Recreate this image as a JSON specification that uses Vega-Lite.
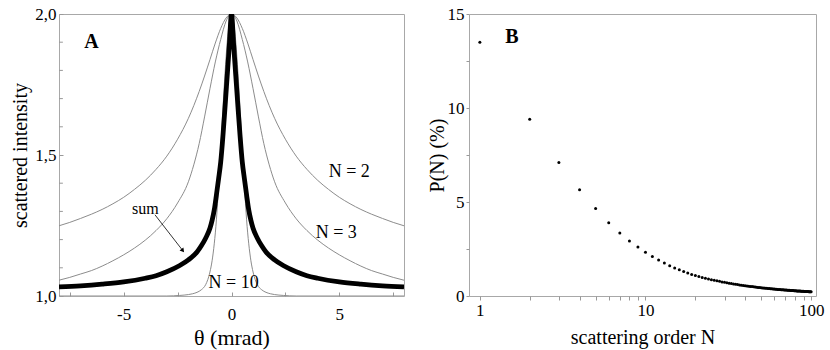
{
"$schema": "https://vega.github.io/schema/vega-lite/v6.json",
"padding": {"left": 10, "top": 4, "right": 4, "bottom": 2},
"background": "white",
"bounds": "flush",
"spacing": 65,
"config": {
  "font": "Liberation Serif",
  "view": {"stroke": "#a8a8a8", "strokeWidth": 1},
  "text": {"font": "Liberation Serif"},
  "axis": {"grid": false, "domain": false, "tickColor": "#999999", "labelFont": "Liberation Serif", "titleFont": "Liberation Serif", "labelFontSize": 17, "titleFontSize": 20, "labelColor": "#000000", "titleColor": "#000000", "titleFontWeight": "normal", "labelOverlap": false}
},
"datasets": {
  "curves": [
    {"s":"N2","x":-8,"y":1.249},{"s":"N2","x":-7.5,"y":1.261},{"s":"N2","x":-7,"y":1.275},{"s":"N2","x":-6.5,"y":1.29},{"s":"N2","x":-6,"y":1.307},{"s":"N2","x":-5.5,"y":1.327},{"s":"N2","x":-5,"y":1.35},{"s":"N2","x":-4.5,"y":1.378},{"s":"N2","x":-4,"y":1.41},{"s":"N2","x":-3.5,"y":1.449},{"s":"N2","x":-3,"y":1.496},{"s":"N2","x":-2.5,"y":1.556},{"s":"N2","x":-2,"y":1.63},{"s":"N2","x":-1.75,"y":1.675},{"s":"N2","x":-1.5,"y":1.725},{"s":"N2","x":-1.25,"y":1.78},{"s":"N2","x":-1,"y":1.838},{"s":"N2","x":-0.75,"y":1.897},{"s":"N2","x":-0.5,"y":1.949},{"s":"N2","x":-0.25,"y":1.986},{"s":"N2","x":0,"y":2},
    {"s":"N2","x":0.25,"y":1.986},{"s":"N2","x":0.5,"y":1.949},{"s":"N2","x":0.75,"y":1.897},{"s":"N2","x":1,"y":1.838},{"s":"N2","x":1.25,"y":1.78},{"s":"N2","x":1.5,"y":1.725},{"s":"N2","x":1.75,"y":1.675},{"s":"N2","x":2,"y":1.63},{"s":"N2","x":2.5,"y":1.556},{"s":"N2","x":3,"y":1.496},{"s":"N2","x":3.5,"y":1.449},{"s":"N2","x":4,"y":1.41},{"s":"N2","x":4.5,"y":1.378},{"s":"N2","x":5,"y":1.35},{"s":"N2","x":5.5,"y":1.327},{"s":"N2","x":6,"y":1.307},{"s":"N2","x":6.5,"y":1.29},{"s":"N2","x":7,"y":1.275},{"s":"N2","x":7.5,"y":1.261},{"s":"N2","x":8,"y":1.249},
    {"s":"N3","x":-8,"y":1.056},{"s":"N3","x":-7.5,"y":1.066},{"s":"N3","x":-7,"y":1.078},{"s":"N3","x":-6.5,"y":1.09},{"s":"N3","x":-6,"y":1.106},{"s":"N3","x":-5.5,"y":1.125},{"s":"N3","x":-5,"y":1.146},{"s":"N3","x":-4.5,"y":1.17},{"s":"N3","x":-4,"y":1.198},{"s":"N3","x":-3.5,"y":1.232},{"s":"N3","x":-3,"y":1.274},{"s":"N3","x":-2.5,"y":1.33},{"s":"N3","x":-2,"y":1.405},{"s":"N3","x":-1.75,"y":1.465},{"s":"N3","x":-1.5,"y":1.54},{"s":"N3","x":-1.25,"y":1.635},{"s":"N3","x":-1,"y":1.735},{"s":"N3","x":-0.75,"y":1.83},{"s":"N3","x":-0.5,"y":1.91},{"s":"N3","x":-0.25,"y":1.975},{"s":"N3","x":0,"y":2},
    {"s":"N3","x":0.25,"y":1.975},{"s":"N3","x":0.5,"y":1.91},{"s":"N3","x":0.75,"y":1.83},{"s":"N3","x":1,"y":1.735},{"s":"N3","x":1.25,"y":1.635},{"s":"N3","x":1.5,"y":1.54},{"s":"N3","x":1.75,"y":1.465},{"s":"N3","x":2,"y":1.405},{"s":"N3","x":2.5,"y":1.33},{"s":"N3","x":3,"y":1.274},{"s":"N3","x":3.5,"y":1.232},{"s":"N3","x":4,"y":1.198},{"s":"N3","x":4.5,"y":1.17},{"s":"N3","x":5,"y":1.146},{"s":"N3","x":5.5,"y":1.125},{"s":"N3","x":6,"y":1.106},{"s":"N3","x":6.5,"y":1.09},{"s":"N3","x":7,"y":1.078},{"s":"N3","x":7.5,"y":1.066},{"s":"N3","x":8,"y":1.056},
    {"s":"N10","x":-8,"y":1},{"s":"N10","x":-5,"y":1},{"s":"N10","x":-3,"y":1},{"s":"N10","x":-2.4,"y":1.002},{"s":"N10","x":-2,"y":1.005},{"s":"N10","x":-1.8,"y":1.008},{"s":"N10","x":-1.6,"y":1.013},{"s":"N10","x":-1.4,"y":1.022},{"s":"N10","x":-1.2,"y":1.04},{"s":"N10","x":-1.1,"y":1.058},{"s":"N10","x":-1,"y":1.085},{"s":"N10","x":-0.9,"y":1.125},{"s":"N10","x":-0.8,"y":1.185},{"s":"N10","x":-0.7,"y":1.27},{"s":"N10","x":-0.6,"y":1.39},{"s":"N10","x":-0.5,"y":1.52},{"s":"N10","x":-0.4,"y":1.66},{"s":"N10","x":-0.3,"y":1.79},{"s":"N10","x":-0.2,"y":1.9},{"s":"N10","x":-0.1,"y":1.97},{"s":"N10","x":0,"y":2},
    {"s":"N10","x":0.1,"y":1.97},{"s":"N10","x":0.2,"y":1.9},{"s":"N10","x":0.3,"y":1.79},{"s":"N10","x":0.4,"y":1.66},{"s":"N10","x":0.5,"y":1.52},{"s":"N10","x":0.6,"y":1.39},{"s":"N10","x":0.7,"y":1.27},{"s":"N10","x":0.8,"y":1.185},{"s":"N10","x":0.9,"y":1.125},{"s":"N10","x":1,"y":1.085},{"s":"N10","x":1.1,"y":1.058},{"s":"N10","x":1.2,"y":1.04},{"s":"N10","x":1.4,"y":1.022},{"s":"N10","x":1.6,"y":1.013},{"s":"N10","x":1.8,"y":1.008},{"s":"N10","x":2,"y":1.005},{"s":"N10","x":2.4,"y":1.002},{"s":"N10","x":3,"y":1},{"s":"N10","x":5,"y":1},{"s":"N10","x":8,"y":1}
  ],
  "sum": [
    {"x":-8,"y":1.032},{"x":-7,"y":1.036},{"x":-6,"y":1.042},{"x":-5,"y":1.05},{"x":-4,"y":1.063},{"x":-3.5,"y":1.072},{"x":-3,"y":1.086},{"x":-2.4,"y":1.108},{"x":-2,"y":1.128},{"x":-1.6,"y":1.156},{"x":-1.4,"y":1.178},{"x":-1.2,"y":1.205},{"x":-1,"y":1.24},{"x":-0.9,"y":1.268},{"x":-0.8,"y":1.305},{"x":-0.7,"y":1.358},{"x":-0.6,"y":1.415},{"x":-0.5,"y":1.475},{"x":-0.4,"y":1.565},{"x":-0.3,"y":1.67},{"x":-0.2,"y":1.78},{"x":-0.1,"y":1.89},{"x":0,"y":2},
    {"x":0.1,"y":1.89},{"x":0.2,"y":1.78},{"x":0.3,"y":1.67},{"x":0.4,"y":1.565},{"x":0.5,"y":1.475},{"x":0.6,"y":1.415},{"x":0.7,"y":1.358},{"x":0.8,"y":1.305},{"x":0.9,"y":1.268},{"x":1,"y":1.24},{"x":1.2,"y":1.205},{"x":1.4,"y":1.178},{"x":1.6,"y":1.156},{"x":2,"y":1.128},{"x":2.4,"y":1.108},{"x":3,"y":1.086},{"x":3.5,"y":1.072},{"x":4,"y":1.063},{"x":5,"y":1.05},{"x":6,"y":1.042},{"x":7,"y":1.036},{"x":8,"y":1.032}
  ],
  "minorA": [
    {"t":1.1},{"t":1.2},{"t":1.3},{"t":1.4},{"t":1.6},{"t":1.7},{"t":1.8},{"t":1.9}
  ],
  "labelsA": [
    {"x":5.46,"y":1.44,"t":"N = 2"},{"x":4.86,"y":1.225,"t":"N = 3"},{"x":0.1,"y":1.046,"t":"N = 10"}
  ],
  "prob": [
    {"N":1,"P":13.5},{"N":2,"P":9.4},{"N":3,"P":7.1},{"N":4,"P":5.65},{"N":5,"P":4.65},{"N":6,"P":3.9},{"N":7,"P":3.35},{"N":8,"P":2.93},{"N":9,"P":2.6},{"N":10,"P":2.33},
    {"N":11,"P":2.1},{"N":12,"P":1.91},{"N":13,"P":1.75},{"N":14,"P":1.61},{"N":15,"P":1.49},{"N":16,"P":1.39},{"N":17,"P":1.3},{"N":18,"P":1.22},{"N":19,"P":1.15},{"N":20,"P":1.085},
    {"N":21,"P":1.034},{"N":22,"P":0.987},{"N":23,"P":0.945},{"N":24,"P":0.906},{"N":25,"P":0.87},{"N":26,"P":0.837},{"N":27,"P":0.806},{"N":28,"P":0.778},{"N":29,"P":0.751},{"N":30,"P":0.727},
    {"N":31,"P":0.704},{"N":32,"P":0.682},{"N":33,"P":0.662},{"N":34,"P":0.642},{"N":35,"P":0.624},{"N":36,"P":0.607},{"N":37,"P":0.591},{"N":38,"P":0.576},{"N":39,"P":0.561},{"N":40,"P":0.548},
    {"N":41,"P":0.534},{"N":42,"P":0.522},{"N":43,"P":0.51},{"N":44,"P":0.499},{"N":45,"P":0.488},{"N":46,"P":0.477},{"N":47,"P":0.467},{"N":48,"P":0.458},{"N":49,"P":0.449},{"N":50,"P":0.44},
    {"N":51,"P":0.432},{"N":52,"P":0.423},{"N":53,"P":0.416},{"N":54,"P":0.408},{"N":55,"P":0.401},{"N":56,"P":0.394},{"N":57,"P":0.387},{"N":58,"P":0.381},{"N":59,"P":0.374},{"N":60,"P":0.368},
    {"N":61,"P":0.362},{"N":62,"P":0.357},{"N":63,"P":0.351},{"N":64,"P":0.346},{"N":65,"P":0.341},{"N":66,"P":0.336},{"N":67,"P":0.331},{"N":68,"P":0.326},{"N":69,"P":0.322},{"N":70,"P":0.317},
    {"N":71,"P":0.313},{"N":72,"P":0.309},{"N":73,"P":0.305},{"N":74,"P":0.301},{"N":75,"P":0.297},{"N":76,"P":0.293},{"N":77,"P":0.289},{"N":78,"P":0.286},{"N":79,"P":0.282},{"N":80,"P":0.279},
    {"N":81,"P":0.275},{"N":82,"P":0.272},{"N":83,"P":0.269},{"N":84,"P":0.266},{"N":85,"P":0.263},{"N":86,"P":0.26},{"N":87,"P":0.257},{"N":88,"P":0.254},{"N":89,"P":0.252},{"N":90,"P":0.249},
    {"N":91,"P":0.246},{"N":92,"P":0.244},{"N":93,"P":0.241},{"N":94,"P":0.239},{"N":95,"P":0.236},{"N":96,"P":0.234},{"N":97,"P":0.232},{"N":98,"P":0.229},{"N":99,"P":0.227},{"N":100,"P":0.225}
  ]
},
"hconcat": [
  {
    "width": 345, "height": 282,
    "layer": [
      {
        "data": {"name": "curves"},
        "mark": {"type": "line", "interpolate": "monotone", "clip": true, "color": "#8c8c8c", "strokeWidth": 1},
        "encoding": {
          "x": {"field": "x", "type": "quantitative", "scale": {"domain": [-8, 8], "nice": false},
                "axis": {"title": "θ (mrad)", "titleFont": "Liberation Serif", "titleFontSize": 22, "labelFont": "Liberation Serif", "labelFontSize": 17, "labelOverlap": false, "values": [-7.5, -5, -2.5, 0, 2.5, 5, 7.5], "labelExpr": "datum.value == -5 ? '-5' : datum.value == 0 ? '0' : datum.value == 5 ? '5' : ''", "offset": -4, "tickSize": 4, "labelPadding": 10, "titlePadding": 5}},
          "y": {"field": "y", "type": "quantitative", "scale": {"domain": [1, 2], "nice": false},
                "axis": {"title": "scattered intensity", "titleFont": "Liberation Serif", "titleFontSize": 20, "labelFont": "Liberation Serif", "labelFontSize": 17, "labelOverlap": false, "values": [1, 1.5, 2], "labelExpr": "datum.value == 1 ? '1,0' : datum.value == 2 ? '2,0' : '1,5'", "offset": -4, "tickSize": 4, "labelPadding": 3, "titlePadding": 4}},
          "detail": {"field": "s"}
        }
      },
      {
        "data": {"name": "minorA"},
        "mark": {"type": "rule", "color": "#999999", "strokeWidth": 1},
        "encoding": {"y": {"field": "t", "type": "quantitative"}, "x": {"datum": -8}, "x2": {"datum": -7.82}}
      },
      {
        "data": {"name": "sum"},
        "mark": {"type": "line", "interpolate": "monotone", "clip": true, "color": "#000000", "strokeWidth": 4.8},
        "encoding": {"x": {"field": "x", "type": "quantitative"}, "y": {"field": "y", "type": "quantitative"}}
      },
      {
        "data": {"values": [{"x": -3.55, "y": 1.288, "x2": -2.3, "y2": 1.165}]},
        "mark": {"type": "rule", "color": "#000000", "strokeWidth": 0.8},
        "encoding": {"x": {"field": "x", "type": "quantitative"}, "y": {"field": "y", "type": "quantitative"}, "x2": {"field": "x2"}, "y2": {"field": "y2"}}
      },
      {
        "data": {"values": [{"x": -2.26, "y": 1.161}]},
        "mark": {"type": "point", "shape": "triangle-up", "filled": true, "color": "#000000", "size": 24, "angle": 142, "opacity": 1},
        "encoding": {"x": {"field": "x", "type": "quantitative"}, "y": {"field": "y", "type": "quantitative"}}
      },
      {
        "data": {"name": "labelsA"},
        "mark": {"type": "text", "fontSize": 18, "font": "Liberation Serif", "color": "#000000"},
        "encoding": {"x": {"field": "x", "type": "quantitative"}, "y": {"field": "y", "type": "quantitative"}, "text": {"field": "t"}}
      },
      {
        "data": {"values": [{"x": -4.0, "y": 1.31, "t": "sum"}]},
        "mark": {"type": "text", "fontSize": 16, "font": "Liberation Serif", "color": "#000000"},
        "encoding": {"x": {"field": "x", "type": "quantitative"}, "y": {"field": "y", "type": "quantitative"}, "text": {"field": "t"}}
      },
      {
        "data": {"values": [{"x": -6.5, "y": 1.9, "t": "A"}]},
        "mark": {"type": "text", "fontSize": 20, "fontWeight": "bold", "font": "Liberation Serif", "color": "#000000"},
        "encoding": {"x": {"field": "x", "type": "quantitative"}, "y": {"field": "y", "type": "quantitative"}, "text": {"field": "t"}}
      }
    ]
  },
  {
    "width": 347, "height": 282,
    "layer": [
      {
        "data": {"name": "prob"},
        "mark": {"type": "point", "filled": true, "color": "#000000", "size": 9, "opacity": 1},
        "encoding": {
          "x": {"field": "N", "type": "quantitative", "scale": {"type": "log", "domain": [0.86, 107], "nice": false},
                "axis": {"title": "scattering order N", "titleFont": "Liberation Serif", "titleFontSize": 20, "labelFont": "Liberation Serif", "labelFontSize": 17, "labelOverlap": false, "values": [1, 2, 3, 4, 5, 6, 7, 8, 9, 10, 20, 30, 40, 50, 60, 70, 80, 90, 100], "labelExpr": "datum.value == 1 ? '1' : datum.value == 10 ? '10' : datum.value == 100 ? '100' : ''", "tickSize": 4, "labelPadding": 2, "titlePadding": 9}},
          "y": {"field": "P", "type": "quantitative", "scale": {"domain": [0, 15], "nice": false},
                "axis": {"title": "P(N) (%)", "titleFont": "Liberation Serif", "titleFontSize": 20, "labelFont": "Liberation Serif", "labelFontSize": 17, "labelOverlap": false, "values": [0, 2.5, 5, 7.5, 10, 12.5, 15], "labelExpr": "datum.value == 0 ? '0' : datum.value == 5 ? '5' : datum.value == 10 ? '10' : datum.value == 15 ? '15' : ''", "tickSize": 3, "labelPadding": 2, "titlePadding": 0}}
        }
      },
      {
        "data": {"values": [{"N": 1.56, "P": 13.8, "t": "B"}]},
        "mark": {"type": "text", "fontSize": 20, "fontWeight": "bold", "font": "Liberation Serif", "color": "#000000"},
        "encoding": {"x": {"field": "N", "type": "quantitative"}, "y": {"field": "P", "type": "quantitative"}, "text": {"field": "t"}}
      }
    ]
  }
]
}
